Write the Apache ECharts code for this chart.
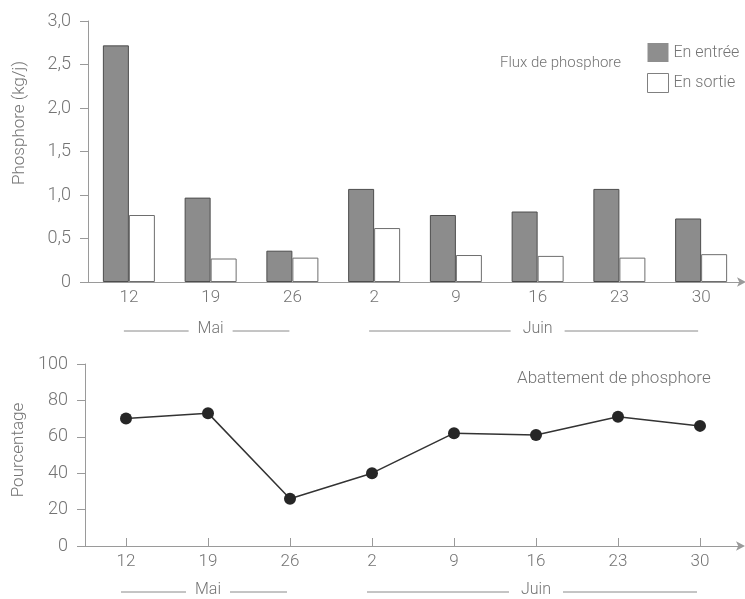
<!DOCTYPE html>
<html>
<head>
<meta charset="utf-8">
<script src="https://cdn.jsdelivr.net/npm/echarts@6/dist/echarts.min.js"></script>
<style>
  html, body { margin: 0; padding: 0; background: #fff; }
  #chart { width: 745px; height: 599px; }
</style>
</head>
<body>
<div id="chart"></div>
<script>
// Semaines de mesure (jour du mois)
const categories = ['12', '19', '26', '2', '9', '16', '23', '30'];
// Flux de phosphore (kg/j)
const fluxEntree = [2.72, 0.97, 0.36, 1.07, 0.77, 0.81, 1.07, 0.73];
const fluxSortie = [0.77, 0.27, 0.28, 0.62, 0.31, 0.30, 0.28, 0.32];
// Abattement de phosphore (%)
const abattement = [70, 73, 26, 40, 62, 61, 71, 66];
// Regroupement des semaines par mois (indices de catégorie)
const monthNames = ['Mai', 'Juin'];
const monthFirst = [0, 3];
const monthLast = [2, 7];

const FONT = 'Roboto, "Liberation Sans", sans-serif';
const TEXT = '#747474';
const AXIS = '#9a9a9a';

const chart = echarts.init(document.getElementById('chart'), null, { renderer: 'canvas' });

const commaFmt = v => (v === 0 ? '0' : v.toFixed(1).replace('.', ','));

const option = {
  backgroundColor: '#fff',
  animation: false,
  textStyle: { fontFamily: FONT, fontWeight: 300, color: TEXT },
  grid: [
    { left: 88, right: 3, top: 21, height: 261 },
    { left: 85, right: 4, top: 364, height: 182 }
  ],
  legend: {
    left: 642, top: 38, orient: 'vertical',
    itemWidth: 21, itemHeight: 19, itemGap: 11,
    textStyle: { fontSize: 16, color: TEXT, fontFamily: FONT, fontWeight: 300 },
    selectedMode: false,
    data: [
      { name: 'En entrée', icon: 'rect', itemStyle: { color: '#8e8e8e', borderColor: '#8e8e8e', borderWidth: 0 } },
      { name: 'En sortie', icon: 'rect', itemStyle: { color: '#fff', borderColor: '#808080', borderWidth: 1 } }
    ]
  },
  xAxis: [
    {
      gridIndex: 0, type: 'category', data: categories,
      axisLine: { lineStyle: { color: AXIS, width: 1 }, symbol: ['none', 'arrow'], symbolSize: [7, 9], symbolOffset: [0, 4] },
      axisTick: { show: false },
      axisLabel: { interval: 0, margin: 7, fontSize: 17, color: TEXT, fontFamily: FONT, fontWeight: 300 }
    },
    {
      gridIndex: 1, type: 'category', data: categories,
      axisLine: { lineStyle: { color: AXIS, width: 1 }, symbol: ['none', 'arrow'], symbolSize: [7, 9], symbolOffset: [0, 4] },
      axisTick: { show: true, inside: true, alignWithLabel: true, length: 8, lineStyle: { color: AXIS } },
      axisLabel: { interval: 0, margin: 7, fontSize: 17, color: TEXT, fontFamily: FONT, fontWeight: 300 }
    }
  ],
  yAxis: [
    {
      gridIndex: 0, type: 'value', min: 0, max: 3, interval: 0.5,
      axisLine: { show: true, lineStyle: { color: AXIS } },
      axisTick: { show: true, length: 8, lineStyle: { color: AXIS } },
      splitLine: { show: false },
      axisLabel: { margin: 17, fontSize: 18, color: TEXT, formatter: commaFmt, fontFamily: FONT, fontWeight: 300 }
    },
    {
      gridIndex: 1, type: 'value', min: 0, max: 100, interval: 20,
      axisLine: { show: true, lineStyle: { color: AXIS } },
      axisTick: { show: true, length: 8, lineStyle: { color: AXIS } },
      splitLine: { show: false },
      axisLabel: { margin: 17, fontSize: 18, color: TEXT, fontFamily: FONT, fontWeight: 300 }
    }
  ],
  series: [
    {
      name: 'En entrée', type: 'bar', xAxisIndex: 0, yAxisIndex: 0,
      data: fluxEntree, barWidth: 26, barGap: '0%',
      itemStyle: { color: '#8c8c8c', borderColor: '#4d4d4d', borderWidth: 1 }
    },
    {
      name: 'En sortie', type: 'bar', xAxisIndex: 0, yAxisIndex: 0,
      data: fluxSortie, barWidth: 26, barGap: '0%',
      itemStyle: { color: '#fff', borderColor: '#6e6e6e', borderWidth: 1 }
    },
    {
      name: 'Abattement', type: 'line', xAxisIndex: 1, yAxisIndex: 1,
      data: abattement, symbol: 'circle', symbolSize: 12,
      itemStyle: { color: '#262626' },
      lineStyle: { color: '#333', width: 1.5 }
    }
  ]
};

chart.setOption(option);

// Textes libres et accolades de mois sous chaque axe des abscisses
function buildGraphics() {
  const els = [];
  const txt = (x, y, text, size, extra) => Object.assign({
    type: 'text', x: x, y: y,
    style: { text: text, fontSize: size, fontFamily: FONT, fontWeight: 300, fill: TEXT, align: 'left', verticalAlign: 'middle' }
  }, extra || {});
  const vertical = (x, y, text) => ({
    type: 'text', x: x, y: y, rotation: Math.PI / 2,
    style: { text: text, fontSize: 17, fontFamily: FONT, fontWeight: 300, fill: TEXT, align: 'center', verticalAlign: 'middle' }
  });

  els.push(vertical(20, 123, 'Phosphore (kg/j)'));
  els.push(vertical(19, 450, 'Pourcentage'));
  els.push(txt(500, 63, 'Flux de phosphore', 15));
  els.push(txt(517, 379, 'Abattement de phosphore', 17));

  const rows = [{ axis: 0, y: 329 }, { axis: 1, y: 590 }];
  rows.forEach(r => {
    monthNames.forEach((m, i) => {
      const x0 = chart.convertToPixel({ xAxisIndex: r.axis }, categories[monthFirst[i]]);
      const x1 = chart.convertToPixel({ xAxisIndex: r.axis }, categories[monthLast[i]]);
      const mid = (x0 + x1) / 2;
      const half = m.length * 5 + 1;
      els.push({ type: 'text', x: mid, y: r.y, style: { text: m, fontSize: 16, fontFamily: FONT, fontWeight: 300, fill: TEXT, align: 'center', verticalAlign: 'middle' } });
      els.push({ type: 'line', shape: { x1: x0 - 5, y1: r.y + 2, x2: mid - half - 6, y2: r.y + 2 }, style: { stroke: '#8a8a8a', lineWidth: 1 } });
      els.push({ type: 'line', shape: { x1: mid + half + 6, y1: r.y + 2, x2: x1 - 3, y2: r.y + 2 }, style: { stroke: '#8a8a8a', lineWidth: 1 } });
    });
  });
  return els;
}

chart.setOption({ graphic: buildGraphics() });
</script>
</body>
</html>
